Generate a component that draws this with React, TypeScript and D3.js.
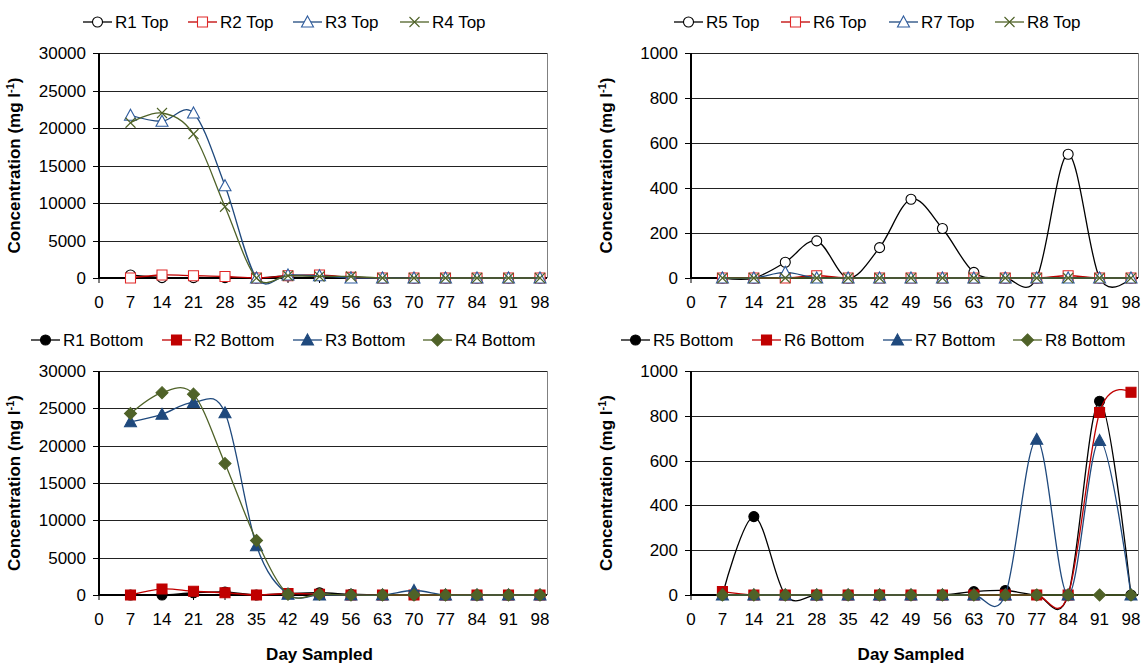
import React from "react";
import * as d3 from "d3";

// sampling days (x axis) and tick labels
const days = [7, 14, 21, 28, 35, 42, 49, 56, 63, 70, 77, 84, 91, 98];
const xTicks = [0, 7, 14, 21, 28, 35, 42, 49, 56, 63, 70, 77, 84, 91, 98];
const bigTicks = [0, 5000, 10000, 15000, 20000, 25000, 30000];
const smallTicks = [0, 200, 400, 600, 800, 1000];

// top samples, reactors 1-4 (mg/l)
const r1Top = [400, 50, 50, 50, 0, 300, 300, 100, 0, 0, 0, 0, 0, 0];
const r2Top = [0, 400, 300, 200, 0, 300, 400, 100, 0, 0, 0, 0, 0, 0];
const r3Top = [21700, 20900, 22000, 12300, 0, 400, 300, 0, 0, 0, 0, 0, 0, 0];
const r4Top = [20700, 22000, 19200, 9500, 0, 300, 200, 200, 0, 0, 0, 0, 0, 0];

// top samples, reactors 5-8
const r5Top = [0, 0, 70, 165, 0, 135, 350, 220, 25, 0, 0, 550, 0, 0];
const r6Top = [0, 0, 0, 10, 0, 0, 0, 0, 0, 0, 0, 10, 0, 0];
const r7Top = [0, 0, 25, 0, 0, 0, 0, 0, 0, 0, 0, 0, 0, 0];
const r8Top = [0, 0, 0, 0, 0, 0, 0, 0, 0, 0, 0, 0, 0, 0];

// bottom samples, reactors 1-4
const r1Bottom = [0, 0, 300, 400, 0, 200, 300, 100, 0, 0, 0, 0, 0, 0];
const r2Bottom = [0, 800, 500, 300, 0, 200, 100, 0, 0, 0, 0, 0, 0, 0];
const r3Bottom = [23200, 24200, 25800, 24400, 6600, 100, 0, 0, 0, 600, 0, 0, 0, 0];
const r4Bottom = [24300, 27100, 26900, 17600, 7300, 100, 100, 0, 0, 0, 0, 0, 0, 0];

// bottom samples, reactors 5-8
const r5Bottom = [0, 350, 0, 0, 0, 0, 0, 0, 15, 20, 0, 0, 865, 0];
const r6Bottom = [15, 0, 0, 0, 0, 0, 0, 0, 0, 0, 0, 0, 815, 905];
const r7Bottom = [0, 0, 0, 0, 0, 0, 0, 0, 0, 0, 695, 0, 690, 0];
const r8Bottom = [0, 0, 0, 0, 0, 0, 0, 0, 0, 0, 0, 0, 0, 0];

const BLACK = "#000000";
const RED = "#C00000";
const RED_OPEN = "#E02828";
const BLUE = "#1F497D";
const BLUE_OPEN = "#2F5C9E";
const GREEN = "#4F6228";

const FONT = "'Liberation Sans', Arial, sans-serif";

type Shape = "circle" | "square" | "triangle" | "x" | "diamond";

interface Series {
  name: string;
  values: number[];
  line: string;
  shape: Shape;
  stroke: string;
  fill: string;
}

interface Panel {
  key: string;
  x0: number;
  x1: number;
  yTop: number;
  yBot: number;
  yMax: number;
  ticks: number[];
  series: Series[];
  legendY: number;
  legendX: number[];
}

function markerPath(shape: Shape): string {
  switch (shape) {
    case "circle":
      return "M5,0A5,5 0 1,1 -5,0A5,5 0 1,1 5,0Z";
    case "square":
      return "M-5,-5H5V5H-5Z";
    case "triangle":
      return "M0,-6L6,5H-6Z";
    case "x":
      return "M-5,-5L5,5M5,-5L-5,5";
    case "diamond":
      return "M0,-6L6,0L0,6L-6,0Z";
  }
}

function Marker({ s, x, y }: { s: Series; x: number; y: number }) {
  return (
    <path
      d={markerPath(s.shape)}
      transform={`translate(${x},${y})`}
      fill={s.shape === "x" ? "none" : s.fill}
      stroke={s.stroke}
      strokeWidth={1.1}
    />
  );
}

const panels: Panel[] = [
  {
    key: "tl",
    x0: 99,
    x1: 540,
    yTop: 53,
    yBot: 278,
    yMax: 30000,
    ticks: bigTicks,
    legendY: 22,
    legendX: [83, 188, 293, 400],
    series: [
      { name: "R1 Top", values: r1Top, line: BLACK, shape: "circle", stroke: BLACK, fill: "#fff" },
      { name: "R2 Top", values: r2Top, line: RED, shape: "square", stroke: RED_OPEN, fill: "#fff" },
      { name: "R3 Top", values: r3Top, line: BLUE, shape: "triangle", stroke: BLUE_OPEN, fill: "#fff" },
      { name: "R4 Top", values: r4Top, line: GREEN, shape: "x", stroke: GREEN, fill: "none" },
    ],
  },
  {
    key: "tr",
    x0: 691,
    x1: 1131,
    yTop: 53,
    yBot: 278,
    yMax: 1000,
    ticks: smallTicks,
    legendY: 22,
    legendX: [674, 781, 889, 995],
    series: [
      { name: "R5 Top", values: r5Top, line: BLACK, shape: "circle", stroke: BLACK, fill: "#fff" },
      { name: "R6 Top", values: r6Top, line: RED, shape: "square", stroke: RED_OPEN, fill: "#fff" },
      { name: "R7 Top", values: r7Top, line: BLUE, shape: "triangle", stroke: BLUE_OPEN, fill: "#fff" },
      { name: "R8 Top", values: r8Top, line: GREEN, shape: "x", stroke: GREEN, fill: "none" },
    ],
  },
  {
    key: "bl",
    x0: 99,
    x1: 540,
    yTop: 371,
    yBot: 595,
    yMax: 30000,
    ticks: bigTicks,
    legendY: 340,
    legendX: [31, 162, 293, 423],
    series: [
      { name: "R1 Bottom", values: r1Bottom, line: BLACK, shape: "circle", stroke: BLACK, fill: BLACK },
      { name: "R2 Bottom", values: r2Bottom, line: RED, shape: "square", stroke: RED, fill: RED },
      { name: "R3 Bottom", values: r3Bottom, line: BLUE, shape: "triangle", stroke: BLUE, fill: BLUE },
      { name: "R4 Bottom", values: r4Bottom, line: GREEN, shape: "diamond", stroke: GREEN, fill: GREEN },
    ],
  },
  {
    key: "br",
    x0: 691,
    x1: 1131,
    yTop: 371,
    yBot: 595,
    yMax: 1000,
    ticks: smallTicks,
    legendY: 340,
    legendX: [621, 752, 883, 1013],
    series: [
      { name: "R5 Bottom", values: r5Bottom, line: BLACK, shape: "circle", stroke: BLACK, fill: BLACK },
      { name: "R6 Bottom", values: r6Bottom, line: RED, shape: "square", stroke: RED, fill: RED },
      { name: "R7 Bottom", values: r7Bottom, line: BLUE, shape: "triangle", stroke: BLUE, fill: BLUE },
      { name: "R8 Bottom", values: r8Bottom, line: GREEN, shape: "diamond", stroke: GREEN, fill: GREEN },
    ],
  },
];

function ChartPanel({ p }: { p: Panel }) {
  const x = d3.scaleLinear().domain([0, 98]).range([p.x0, p.x1]);
  const y = d3.scaleLinear().domain([0, p.yMax]).range([p.yBot, p.yTop]);
  const right = p.x1 + 7;
  const gen = d3
    .line<number>()
    .x((_, i) => x(days[i]))
    .y((v) => y(v))
    .curve(d3.curveCardinal.tension(0));
  const isBottom = p.yTop > 200;
  const midY = (p.yTop + p.yBot) / 2;
  const titleX = p.x0 - 79;

  return (
    <g>
      {/* gridlines */}
      {p.ticks.map((t) => (
        <line key={t} x1={p.x0} x2={right} y1={Math.round(y(t)) + 0.5} y2={Math.round(y(t)) + 0.5} stroke="#222" strokeWidth={1} />
      ))}
      <line x1={right + 0.5} x2={right + 0.5} y1={p.yTop} y2={p.yBot} stroke="#808080" strokeWidth={1} />
      {/* y ticks + labels */}
      {p.ticks.map((t) => (
        <g key={"yt" + t}>
          <line x1={p.x0 - 6} x2={p.x0} y1={Math.round(y(t)) + 0.5} y2={Math.round(y(t)) + 0.5} stroke="#000" />
          <text x={p.x0 - 13} y={y(t) + 6} textAnchor="end" fontSize={17} fontFamily={FONT}>
            {t}
          </text>
        </g>
      ))}
      {/* x ticks + labels */}
      {xTicks.map((t) => (
        <g key={"xt" + t}>
          <line x1={x(t)} x2={x(t)} y1={p.yBot} y2={p.yBot + 5} stroke="#000" />
          <text x={x(t)} y={p.yBot + 30} textAnchor="middle" fontSize={17} fontFamily={FONT}>
            {t}
          </text>
        </g>
      ))}
      {/* axes */}
      <line x1={p.x0} x2={p.x0} y1={p.yTop} y2={p.yBot + 1} stroke="#000" strokeWidth={2} />
      <line x1={p.x0} x2={right} y1={p.yBot} y2={p.yBot} stroke="#000" strokeWidth={2} />
      {/* series */}
      {p.series.map((s) => (
        <g key={s.name}>
          <path d={gen(s.values) || ""} fill="none" stroke={s.line} strokeWidth={1.3} />
          {s.values.map((v, i) => (
            <Marker key={i} s={s} x={x(days[i])} y={y(v)} />
          ))}
        </g>
      ))}
      {/* legend */}
      {p.series.map((s, i) => (
        <g key={"lg" + s.name}>
          <line x1={p.legendX[i]} x2={p.legendX[i] + 29} y1={p.legendY} y2={p.legendY} stroke={s.line} strokeWidth={1.3} />
          <Marker s={s} x={p.legendX[i] + 14.5} y={p.legendY} />
          <text x={p.legendX[i] + 32} y={p.legendY + 6} fontSize={17} fontFamily={FONT}>
            {s.name}
          </text>
        </g>
      ))}
      {/* axis titles */}
      <text
        transform={`translate(${titleX},${midY}) rotate(-90)`}
        textAnchor="middle"
        fontSize={17}
        fontWeight="bold"
        fontFamily={FONT}
      >
        Concentration (mg l
        <tspan dy={-6} fontSize={11}>
          -1
        </tspan>
        <tspan dy={6}>)</tspan>
      </text>
      {isBottom && (
        <text x={(p.x0 + p.x1) / 2} y={660} textAnchor="middle" fontSize={17} fontWeight="bold" fontFamily={FONT}>
          Day Sampled
        </text>
      )}
    </g>
  );
}

export default function App() {
  return (
    <svg
      width={1142}
      height={664}
      style={{ position: "absolute", left: 0, top: 0, background: "#fff" }}
    >
      <rect width={1142} height={664} fill="#fff" />
      {panels.map((p) => (
        <ChartPanel key={p.key} p={p} />
      ))}
    </svg>
  );
}
